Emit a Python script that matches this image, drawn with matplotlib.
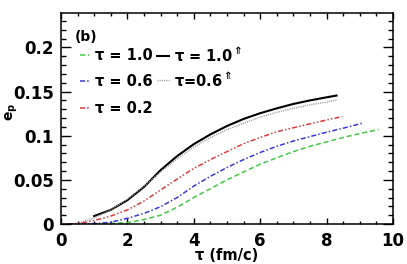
import matplotlib
matplotlib.use("Agg")
import matplotlib.pyplot as plt
from matplotlib.ticker import MultipleLocator

plt.rcParams['font.family'] = ['DejaVu Sans']
plt.rcParams['font.weight'] = 'bold'

# tau = 1.0 (green dashed)
x_g = [1.0, 1.5, 2.0, 2.5, 3.0, 3.5, 4.0, 4.5, 5.0, 5.5, 6.0, 6.5, 7.0, 7.5, 8.0, 8.5, 9.0, 9.57]
y_g = [0.0, 0.0005, 0.0015, 0.005, 0.010, 0.019, 0.030, 0.040, 0.050, 0.059, 0.0677, 0.075, 0.082, 0.088, 0.093, 0.098, 0.1025, 0.107]
# tau = 0.6 (blue dash-dot)
x_b = [0.6, 1.0, 1.5, 2.0, 2.5, 3.0, 3.5, 4.0, 4.5, 5.0, 5.5, 6.0, 6.5, 7.0, 7.5, 8.0, 8.5, 9.06]
y_b = [0.0, 0.0005, 0.002, 0.0065, 0.012, 0.0196, 0.030, 0.043, 0.054, 0.064, 0.073, 0.081, 0.088, 0.094, 0.099, 0.104, 0.1085, 0.114]
# tau = 0.2 (red dash-dot-dot)
x_r = [0.2, 0.6, 1.0, 1.5, 2.0, 2.5, 3.0, 3.5, 4.0, 4.5, 5.0, 5.5, 6.0, 6.5, 7.0, 7.5, 8.0, 8.47]
y_r = [0.0, 0.001, 0.004, 0.009, 0.016, 0.026, 0.0385, 0.051, 0.063, 0.073, 0.082, 0.091, 0.098, 0.1045, 0.109, 0.1135, 0.1178, 0.1217]
# tau = 1.0 up (black solid)
x_k = [1.0, 1.5, 2.0, 2.5, 3.0, 3.5, 4.0, 4.5, 5.0, 5.5, 6.0, 6.5, 7.0, 7.5, 8.0, 8.3]
y_k = [0.009, 0.016, 0.027, 0.042, 0.061, 0.077, 0.0905, 0.1015, 0.111, 0.119, 0.1255, 0.131, 0.136, 0.140, 0.1435, 0.1455]
# tau = 0.6 up (gray dotted)
x_s = [0.6, 1.0, 1.5, 2.0, 2.5, 3.0, 3.5, 4.0, 4.5, 5.0, 5.5, 6.0, 6.5, 7.0, 7.5, 8.0, 8.3]
y_s = [0.002, 0.007, 0.016, 0.028, 0.043, 0.059, 0.074, 0.087, 0.098, 0.107, 0.114, 0.121, 0.1265, 0.131, 0.135, 0.138, 0.1405]

xticks = [0, 2, 4, 6, 8, 10]
yticks = [0, 0.05, 0.1, 0.15, 0.2]
ytick_labels = ['0', '0.05', '0.1', '0.15', '0.2']

fig = plt.figure(figsize=(4.07, 2.64), dpi=100)
ax = fig.add_axes([0.1499, 0.1515, 0.8157, 0.7993])

lg, = ax.plot(x_g, y_g, color='#44c844', lw=1.1, dashes=(3.3, 1.9), label='τ = 1.0')
lb, = ax.plot(x_b, y_b, color='#3838d8', lw=1.1, dashes=(3.3, 1.4, 1, 1.4), label='τ = 0.6')
lr, = ax.plot(x_r, y_r, color='#dc3a3a', lw=1.1, dashes=(3.3, 1.4, 1, 1.4, 1, 1.4), label='τ = 0.2')
lk, = ax.plot(x_k, y_k, color='black', lw=1.5, label=r'τ = 1.0$^{\Uparrow}$')
ls, = ax.plot(x_s, y_s, color='#999999', lw=1.0, dashes=(0.8, 0.8), label=r'τ=0.6$^{\Uparrow}$')

ax.set_xlim(0, 10)
ax.set_ylim(0, 0.239)
ax.set_xticks(xticks, [str(t) for t in xticks])
ax.set_yticks(yticks, ytick_labels)
ax.xaxis.set_minor_locator(MultipleLocator(0.5))
ax.yaxis.set_minor_locator(MultipleLocator(0.01))

ax.tick_params(which='both', direction='in', top=True, right=True, width=1.0, labelsize=12)
ax.tick_params(axis='x', which='major', length=4.5, pad=6)
ax.tick_params(axis='x', which='minor', length=2.3)
ax.tick_params(axis='y', which='major', length=7.2, pad=5)
ax.tick_params(axis='y', which='minor', length=3.6)
for sp in ax.spines.values():
    sp.set_linewidth(1.1)

ax.set_xlabel('τ (fm/c)', fontsize=10.5, fontweight='bold')
ax.xaxis.set_label_coords(0.5, -0.115)
ax.set_ylabel(r'e$_\mathregular{p}$', fontsize=10, fontweight='bold')
ax.yaxis.set_label_coords(-0.125, 0.53)

ax.text(0.042, 0.919, '(b)', transform=ax.transAxes, fontsize=10, fontweight='bold', va='top', ha='left')

leg1 = ax.legend(handles=[lg, lb, lr], loc='upper left', bbox_to_anchor=(0.057, 0.835),
                 frameon=False, fontsize=10.5, handlelength=0.65, handletextpad=0.4,
                 labelspacing=0.8, borderpad=0, borderaxespad=0)
ax.add_artist(leg1)
ax.legend(handles=[lk, ls], loc='upper left', bbox_to_anchor=(0.289, 0.845),
          frameon=False, fontsize=10.5, handlelength=0.85, handletextpad=0.3,
          labelspacing=0.47, borderpad=0, borderaxespad=0)

fig.savefig('out.png', dpi=100)
